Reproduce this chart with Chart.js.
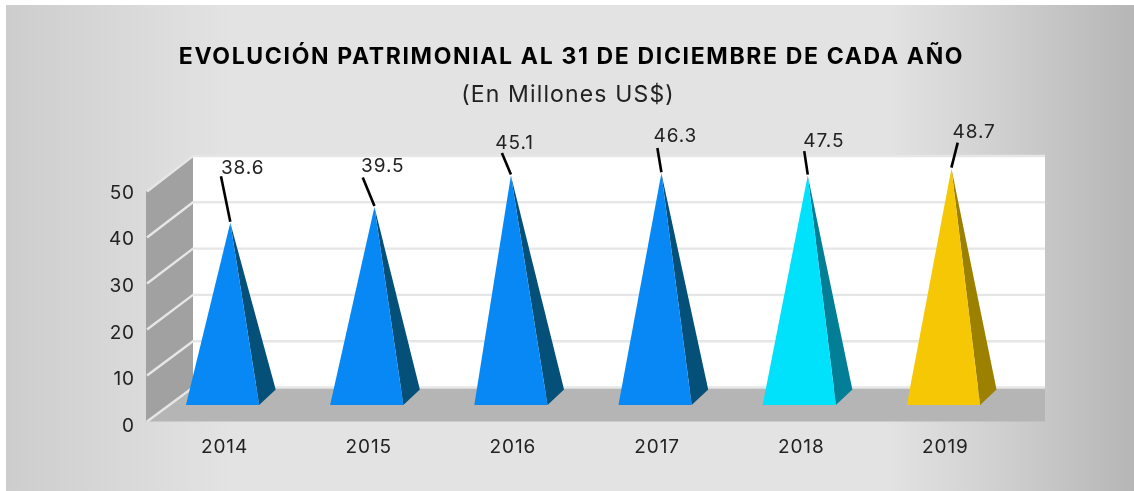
<!DOCTYPE html>
<html><head><meta charset="utf-8">
<style>html,body{margin:0;padding:0;background:#fff}canvas{display:block}</style>
<script src="https://cdn.jsdelivr.net/npm/chart.js@4"></script>
</head><body>
<canvas id="c" width="1134" height="491"></canvas>
<script>
const TITLE = 'EVOLUCIÓN PATRIMONIAL AL 31 DE DICIEMBRE DE CADA AÑO';
const SUBTITLE = '(En Millones US$)';
const years = ['2014','2015','2016','2017','2018','2019'];
const printedValues = ['38.6','39.5','45.1','46.3','47.5','48.7'];
const drawnHeights = [39.0, 42.4, 49.1, 49.6, 49.1, 50.6];
const faceColors = ['#0788f5','#0788f5','#0788f5','#0788f5','#00e1fb','#f5c705'];
const sideColors = ['#045078','#045078','#045078','#045078','#027f97','#9c8000'];

const FONT = 'Inter, "Open Sans", sans-serif';
const TEXT = '#222222';
// picture-specific presentation settings
const tipShift = [7.7, 7.7, 0, 6.3, 8.5, 8];
const leaderEnd = [[-9.3,-46.5],[-11.7,-29.5],[-9,-22.7],[-4,-25.3],[-3.5,-24.5],[6.3,-26]];
const labelFromLeader = [[21.7,-8.5],[20,-10.8],[12.6,-10.1],[18,-11.5],[19.6,-10.2],[16.4,-10.1]];
const LIFT = 21.5;            // base plane sits above the axis baseline
const WALL = {fx:146, bx:193, fTop:191.5, fBot:421.5, bTop:156, bBot:387.5, right:1045};

Chart.BarElement.prototype.draw = function(ctx){
  const chart = Chart.getChart(ctx.canvas);
  const i = chart.getDatasetMeta(0).data.indexOf(this);
  const hw = this.width/2, base = this.base-LIFT, tipX = this.x+tipShift[i], tipY = this.y-LIFT;
  ctx.save();
  ctx.fillStyle = sideColors[i];
  ctx.beginPath();
  ctx.moveTo(this.x+hw, base); ctx.lineTo(this.x+hw+16.5, base-15.5); ctx.lineTo(tipX, tipY);
  ctx.closePath(); ctx.fill();
  ctx.fillStyle = this.options.backgroundColor;
  ctx.beginPath();
  ctx.moveTo(this.x-hw, base); ctx.lineTo(this.x+hw, base); ctx.lineTo(tipX, tipY);
  ctx.closePath(); ctx.fill();
  ctx.restore();
};

function spaced(box, spacing){
  const draw = box.draw;
  box.draw = function(area){
    const ctx = box.ctx, prev = ctx.letterSpacing;
    ctx.letterSpacing = spacing;
    draw.call(box, area);
    ctx.letterSpacing = prev;
  };
}

const stage = {
  id:'stage',
  afterLayout(chart){
    chart.boxes.forEach(b=>{
      const t = b.options && b.options.text;
      if(t===TITLE){b.left=0;b.right=2*571.5;if(!b._sp){b._sp=1;spaced(b,'1.65px');}}
      if(t===SUBTITLE){b.left=0;b.right=2*568;if(!b._sp){b._sp=1;spaced(b,'1.15px');}}
    });
  },
  beforeDraw(chart){
    const c = chart.ctx;
    c.letterSpacing = '0.9px';
    const g = c.createLinearGradient(6,0,1134,0);
    g.addColorStop(0,'#cdcdcd');
    g.addColorStop(0.2,'#e3e3e3');
    g.addColorStop(0.78,'#e3e3e3');
    g.addColorStop(0.87,'#d2d2d2');
    g.addColorStop(1,'#b6b6b6');
    c.fillStyle = g;
    c.fillRect(6,5,1128,486);
  },
  beforeDatasetsDraw(chart){
    const c = chart.ctx, y = chart.scales.y, W = WALL;
    c.save();
    // back wall
    c.fillStyle = '#ffffff';
    c.fillRect(W.bx, W.bTop, W.right-W.bx, W.bBot-W.bTop);
    // left wall
    c.fillStyle = '#a1a1a1';
    c.beginPath();
    c.moveTo(W.fx,W.fTop); c.lineTo(W.bx,W.bTop); c.lineTo(W.bx,W.bBot); c.lineTo(W.fx,W.fBot);
    c.closePath(); c.fill();
    // floor
    c.fillStyle = '#b5b5b5';
    c.beginPath();
    c.moveTo(W.fx,W.fBot); c.lineTo(W.bx,W.bBot); c.lineTo(W.right,W.bBot); c.lineTo(W.right,W.fBot);
    c.closePath(); c.fill();
    // gridlines, one per axis tick
    c.strokeStyle = '#e6e6e6'; c.lineWidth = 2.4;
    y.ticks.forEach(t=>{
      const d = y.getDecimalForPixel(y.getPixelForValue(t.value));
      const fy = W.fBot+(W.fTop-W.fBot)*d, by = W.bBot+(W.bTop-W.bBot)*d;
      c.beginPath();
      c.moveTo(W.fx+1,fy); c.lineTo(W.bx,by); c.lineTo(W.right,by);
      c.stroke();
    });
    c.restore();
  },
  afterDatasetsDraw(chart){
    const c = chart.ctx, meta = chart.getDatasetMeta(0);
    c.save();
    c.font = '400 19px '+FONT;
    c.textAlign='center'; c.textBaseline='middle';
    meta.data.forEach((el,i)=>{
      const tx = el.x+tipShift[i], ty = el.y-LIFT;
      const ex = tx+leaderEnd[i][0], ey = ty+leaderEnd[i][1];
      c.strokeStyle='#000'; c.lineWidth=2.6;
      c.beginPath(); c.moveTo(tx,ty-1); c.lineTo(ex,ey); c.stroke();
      c.fillStyle=TEXT;
      c.fillText(printedValues[i], ex+labelFromLeader[i][0], ey+labelFromLeader[i][1]);
    });
    c.restore();
  }
};

new Chart(document.getElementById('c'),{
  type:'bar',
  data:{labels:years,datasets:[{
    label:'Patrimonio',
    data:drawnHeights,
    backgroundColor:faceColors,
    barPercentage:0.508,
    categoryPercentage:1,
    clip:false
  }]},
  plugins:[stage],
  options:{
    responsive:false,
    animation:false,
    events:[],
    layout:{padding:{left:0,right:118.5,top:0,bottom:24.5}},
    plugins:{
      legend:{display:false},
      tooltip:{enabled:false},
      title:{display:true,text:TITLE,color:'#000',
        font:{family:FONT,size:23,weight:'700',lineHeight:1.2},
        padding:{top:43.5,bottom:0}},
      subtitle:{display:true,text:SUBTITLE,color:TEXT,
        font:{family:FONT,size:23,weight:'400',lineHeight:1.2},
        padding:{top:10,bottom:84.2}}
    },
    scales:{
      x:{
        grid:{display:false,drawTicks:false},border:{display:false},
        afterFit(s){s.height=40;},
        ticks:{color:TEXT,font:{family:FONT,size:19},padding:9.5,labelOffset:2,maxRotation:0}
      },
      y:{
        min:0,max:50,
        grid:{display:false,drawTicks:false},border:{display:false},
        afterFit(s){s.width=150.5;},
        ticks:{stepSize:10,color:TEXT,font:{family:FONT,size:19},padding:15.5}
      }
    }
  }
});
</script>
</body></html>
